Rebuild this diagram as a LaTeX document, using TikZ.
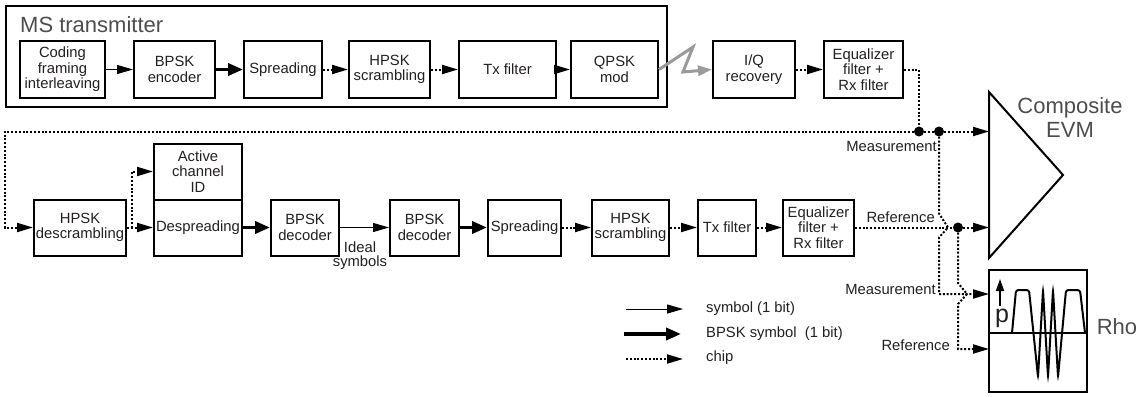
\documentclass[tikz,border=0pt]{standalone}
\usepackage{fontspec}
\setmainfont{Liberation Sans}
\usetikzlibrary{arrows.meta,calc}
\definecolor{txt}{HTML}{231F20}
\definecolor{lite}{HTML}{4D4D4D}
\definecolor{zig}{HTML}{9A9A9A}
\newcommand{\bxfont}{\fontsize{14.8}{15.5}\selectfont}
\newcommand{\bgfont}{\fontsize{22}{24}\selectfont}
\begin{document}
\begin{tikzpicture}[x=1pt,y=-1pt,
  blk/.style={draw, line width=2pt, inner sep=0pt, align=center, font=\bxfont, text=txt, minimum height=56pt},
  lbl/.style={inner sep=0pt, font=\bxfont, text=txt},
  big/.style={inner sep=0pt, font=\bgfont, text=lite, align=center},
  sym/.style={line width=1pt, -{Triangle[length=16pt,width=9pt]}},
  bsym/.style={line width=3.6pt, -{Triangle[length=15pt,width=12pt]}},
  chip/.style={line width=2pt, dash pattern=on 2pt off 1.8pt},
  chipa/.style={chip, -{Triangle[length=16pt,width=9pt]}},
  jdot/.style={circle, fill=black, inner sep=0pt, minimum size=10pt},
]
\useasboundingbox (0,0) rectangle (1139,396);

% transmitter frame
\node[draw, line width=2pt, inner sep=0pt, minimum width=661pt, minimum height=101pt] (ms) at (336.5,56.5) {};
\node[big, anchor=west] (mstitle) at (20,25) {MS transmitter};

% top row
\node[blk, minimum width=85pt] (code) at (62.5,69.5) {Coding\\framing\\interleaving};
\node[blk, minimum width=81pt] (benc) at (174.5,69.5) {BPSK\\encoder};
\node[blk, minimum width=78pt] (spr1) at (283,69.5) {Spreading};
\node[blk, minimum width=81pt] (hscr1) at (389.5,69.5) {HPSK\\scrambling};
\node[blk, minimum width=97pt] (tx1) at (507.5,69.5) {Tx filter};
\node[blk, minimum width=87pt] (qpsk) at (614.5,69.5) {QPSK\\mod};
\node[blk, minimum width=82pt] (iq) at (754,69.5) {I/Q\\recovery};
\node[blk, minimum width=79pt] (eq1) at (863.5,69.5) {Equalizer\\filter +\\Rx filter};

% bottom row
\node[blk, minimum width=92pt] (hdes) at (80,227.5) {HPSK\\descrambling};
\node[blk, minimum width=88pt] (act) at (198,171.5) {Active\\channel\\ID};
\node[blk, minimum width=88pt] (desp) at (198,227.5) {Despreading};
\node[blk, minimum width=68pt] (bdec1) at (305,227.5) {BPSK\\decoder};
\node[blk, minimum width=69pt] (bdec2) at (424.5,227.5) {BPSK\\decoder};
\node[blk, minimum width=73pt] (spr2) at (524.5,227.5) {Spreading};
\node[blk, minimum width=77pt] (hscr2) at (630.5,227.5) {HPSK\\scrambling};
\node[blk, minimum width=58pt] (tx2) at (727,227.5) {Tx filter};
\node[blk, minimum width=71pt] (eq2) at (818.5,227.5) {Equalizer\\filter +\\Rx filter};

\node[lbl, align=center, font=\fontsize{14.8}{14}\selectfont] (ideal) at (360,256) {Ideal\\symbols};

% top row connectors
\draw[sym] (code) -- (benc);
\draw[bsym] (benc) -- (spr1);
\draw[chipa] (spr1) -- (hscr1);
\draw[chipa] (hscr1) -- (tx1);
\draw[chipa] (tx1) -- (qpsk);
\draw[zig, line width=3pt, -{Triangle[length=14pt,width=10pt]}] (qpsk.east) -- (693,47) -- (683,72) -- (iq.west);
\draw[chipa] (iq) -- (eq1);

% junctions and EVM
\node[jdot] (jm1) at (919,131.5) {};
\node[jdot] (jm2) at (939,131.5) {};
\node[jdot] (jr) at (958,227.5) {};
\coordinate (lc) at (5,131.5);
\coordinate (evmA) at (989,131.5);
\coordinate (evmB) at (989,227.5);
\coordinate (rhoA) at (989,294);
\coordinate (rhoB) at (989,349);

\draw[line width=2pt, line join=miter] (989,92) -- (1063,175) -- (989,258) -- cycle;
\node[big] (evmlbl) at (1070,118) {Composite\\EVM};

\draw[chip] (eq1.east) -| (jm1);
\draw[chip] (jm1) -- (jm2);
\draw[chipa] (jm2) -- (evmA);
\draw[chipa] (jm1) -- (lc) |- (hdes.west);

% bottom row connectors
\draw[chipa] (hdes) -- (desp);
\draw[chipa] ($(hdes.east)!0.21!(desp.west)$) |- (act.west);
\draw[bsym] (desp) -- (bdec1);
\draw[sym] (bdec1) -- (bdec2);
\draw[bsym] (bdec2) -- (spr2);
\draw[chipa] (spr2) -- (hscr2);
\draw[chipa] (hscr2) -- (tx2);
\draw[chipa] (tx2) -- (eq2);
\draw[chip] (eq2) -- (jr);
\draw[chipa] (jr) -- (evmB);

% measurement / reference to Rho
\draw[chipa] (jm2) -- ++(0,82) -- ++(9,14) -- ++(-9,10) |- (rhoA);
\draw[chipa] (jr) -- ++(0,55.5) -- ++(9,11) -- ++(-9,10) |- (rhoB);

\node[lbl, anchor=east] (meas1) at (937,146) {Measurement};
\node[lbl, anchor=east] (ref1) at (935,217) {Reference};
\node[lbl, anchor=east] (meas2) at (936,289) {Measurement};
\node[lbl, anchor=east] (ref2) at (950,345) {Reference};

% Rho box
\node[draw, line width=2pt, inner sep=0pt, minimum width=98pt, minimum height=122pt] (rho) at (1038,331) {};
\draw[line width=2pt] (rho.west |- 0,333) -- (rho.east |- 0,333);
\draw[line width=2pt, rounded corners=2.5pt] (1012,333) -- (1016,290) -- (1029,290) -- (1038,377) -- (1043,290) -- (1048,377) -- (1053,290) -- (1058,377) -- (1066,290) -- (1080,290) -- (1085,333);
\draw[line width=1.6pt, -{Triangle[length=12pt,width=8pt]}] (1000,306) -- (1000,279);
\node[inner sep=0pt, font=\fontsize{25}{25}\selectfont, text=txt] (pl) at (1002,318) {p};
\node[big] (rholbl) at (1117,327) {Rho};

% legend
\coordinate (lg1a) at (626,309); \coordinate (lg1b) at (683,309);
\coordinate (lg2a) at (624,334); \coordinate (lg2b) at (681,334);
\coordinate (lg3a) at (626,359); \coordinate (lg3b) at (683,359);
\draw[sym] (lg1a) -- (lg1b);
\draw[bsym] (lg2a) -- (lg2b);
\draw[chipa] (lg3a) -- (lg3b);
\node[lbl, anchor=west] (lt1) at (706,309) {symbol (1 bit)};
\node[lbl, anchor=west] (lt2) at (706,334) {BPSK symbol\ \ (1 bit)};
\node[lbl, anchor=west] (lt3) at (706,358) {chip};
\end{tikzpicture}
\end{document}
